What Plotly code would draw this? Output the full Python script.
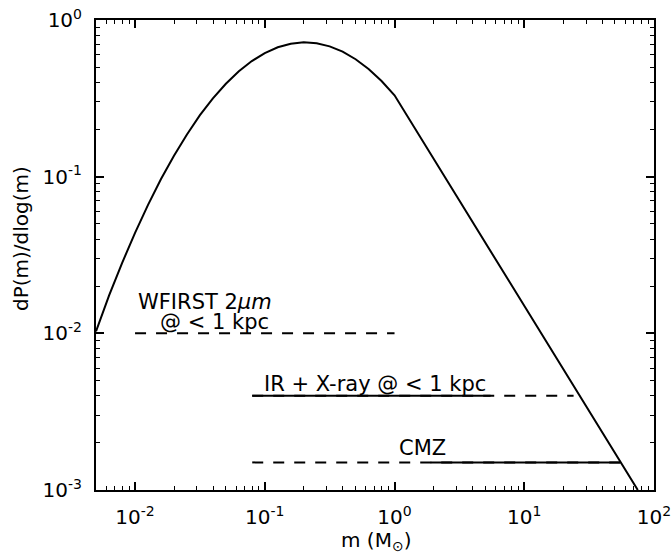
import plotly.graph_objects as go
import numpy as np

# IMF curve (mass in Msun, dP/dlog m)
imf_mass = [0.005, 0.00631, 0.00794, 0.01, 0.01259, 0.01585, 0.01995, 0.02512, 0.03162,
            0.03981, 0.05012, 0.0631, 0.07943, 0.1, 0.1259, 0.1585, 0.1995, 0.2512,
            0.3162, 0.3981, 0.5012, 0.631, 0.7943, 1.0, 3.0, 10.0, 30.0, 75.0]
imf_dp = [0.0103, 0.01745, 0.0281, 0.0438, 0.0661, 0.0965, 0.136, 0.186, 0.247,
          0.316, 0.392, 0.471, 0.547, 0.615, 0.670, 0.706, 0.720, 0.7105,
          0.679, 0.628, 0.562, 0.487, 0.408, 0.331, 0.0755, 0.0150, 0.00341, 0.00100]

# Sensitivity lines: (level, dashed range, solid range)
wfirst_level = 0.01
wfirst_dash = [0.01, 1.0]
ir_level = 0.004
ir_dash = [0.08, 24.0]
ir_solid = [0.08, 5.5]
cmz_level = 0.0015
cmz_dash = [0.08, 55.0]
cmz_solid = [1.9, 55.0]

xtick_vals = [0.01, 0.1, 1, 10, 100]
xtick_text = ["10<sup>-2</sup>", "10<sup>-1</sup>", "10<sup>0</sup>", "10<sup>1</sup>", "10<sup>2</sup>"]
ytick_vals = [0.001, 0.01, 0.1, 1]
ytick_text = ["10<sup>-3</sup>", "10<sup>-2</sup>", "10<sup>-1</sup>", "10<sup>0</sup>"]
x_minor = [k * 10.0 ** e for e in range(-3, 2) for k in range(2, 10)]
y_minor = [k * 10.0 ** e for e in range(-3, 0) for k in range(2, 10)]

FONT = "DejaVu Sans"
DASH = "11px,10px"

fig = go.Figure()
fig.add_trace(go.Scatter(x=imf_mass, y=imf_dp, mode="lines",
                         line=dict(color="black", width=2), showlegend=False))

def hline(rng, level, dash):
    fig.add_trace(go.Scatter(x=rng, y=[level, level], mode="lines",
                             line=dict(color="black", width=2, dash=dash),
                             showlegend=False))

hline(wfirst_dash, wfirst_level, DASH)
hline(ir_dash, ir_level, DASH)
hline(ir_solid, ir_level, "solid")
hline(cmz_dash, cmz_level, DASH)
hline(cmz_solid, cmz_level, "solid")

def axis_common(minor_vals):
    return dict(type="log", showline=True, linecolor="black", linewidth=2,
                mirror="allticks", ticks="inside", ticklen=8, tickwidth=1.5,
                tickcolor="black", showgrid=False, zeroline=False, automargin=False,
                tickfont=dict(family=FONT, size=20, color="black"),
                minor=dict(ticks="inside", ticklen=4, tickwidth=1, tickcolor="black",
                           tickvals=minor_vals, showgrid=False))

fig.update_xaxes(range=[np.log10(0.005), 2], tickvals=xtick_vals, ticktext=xtick_text,
                 ticklabelstandoff=8, **axis_common(x_minor))
fig.update_yaxes(range=[-3, 0], tickvals=ytick_vals, ticktext=ytick_text,
                 ticklabelstandoff=8, **axis_common(y_minor))

def ann(x, y, text, xanchor="left", **kw):
    fig.add_annotation(x=x, y=y, text=text, showarrow=False, xanchor=xanchor,
                       yanchor="middle", font=dict(family=FONT, size=21, color="black"), **kw)

ann(-1.99, -1.80, "WFIRST 2<i>μm</i>")
ann(-1.823, -1.925, "@ < 1 kpc")
ann(-1.024, -2.323, "IR + X-ray @ < 1 kpc")
ann(0.017, -2.729, "CMZ")

# axis titles
fig.add_annotation(xref="paper", yref="paper", x=(376 - 96) / 558, y=(490 - 541) / 470,
                   text="m (M<sub>⊙</sub>)", showarrow=False, xanchor="center", yanchor="middle",
                   font=dict(family=FONT, size=20, color="black"))
fig.add_annotation(xref="paper", yref="paper", x=(21 - 96) / 558, y=(490 - 239) / 470,
                   text="dP(m)/dlog(m)", textangle=-90, showarrow=False,
                   xanchor="center", yanchor="middle",
                   font=dict(family=FONT, size=20, color="black"))

fig.update_layout(width=672, height=553, autosize=False,
                  margin=dict(l=96, r=18, t=20, b=63),
                  plot_bgcolor="white", paper_bgcolor="white",
                  font=dict(family=FONT, size=20, color="black"))

fig.write_html("out.html", config={"displayModeBar": False},
               post_script="document.body.style.margin='0';document.body.style.overflow='hidden';")
